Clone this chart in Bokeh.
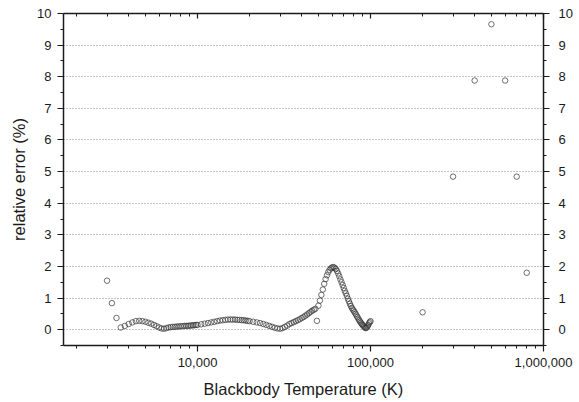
from bokeh.plotting import figure
from bokeh.models import (Range1d, FixedTicker, LinearAxis, LogAxis,
                          NumeralTickFormatter, ColumnDataSource)
from bokeh.embed import file_html
from bokeh.resources import INLINE

# ---------------- data ----------------
temperature_k = [
    3000, 3200, 3400, 3600, 3800, 4000, 4200, 4400, 4600, 4800,
    5000, 5200, 5400, 5600, 5800, 6000, 6200, 6400, 6600, 6800,
    7000, 7200, 7400, 7600, 7800, 8000, 8200, 8400, 8600, 8800,
    9000, 9200, 9400, 9600, 9800, 10000,
    10500, 11000, 11500, 12000, 12500, 13000, 13500, 14000, 14500, 15000,
    15500, 16000, 16500, 17000, 17500, 18000, 18500, 19000, 19500, 20000,
    21000, 22000, 23000, 24000, 25000, 26000, 27000, 28000, 29000, 30000,
    31000, 32000, 33000, 34000, 35000, 36000, 37000, 38000, 39000, 40000,
    41000, 42000, 43000, 44000, 45000, 46000, 47000, 48000, 49000, 50000,
    51000, 52000, 53000, 54000, 55000, 56000, 57000, 58000, 59000, 60000,
    61000, 62000, 63000, 64000, 65000, 66000, 67000, 68000, 69000, 70000,
    71000, 72000, 73000, 74000, 75000, 76000, 77000, 78000, 79000, 80000,
    81000, 82000, 83000, 84000, 85000, 86000, 87000, 88000, 89000, 90000,
    91000, 92000, 93000, 94000, 95000, 96000, 97000, 98000, 99000, 100000,
    200000, 300000, 400000, 500000, 600000, 700000, 800000,
]
relative_error = [
    1.55, 0.84, 0.37, 0.07, 0.12, 0.18, 0.23, 0.27, 0.28, 0.27,
    0.25, 0.22, 0.19, 0.15, 0.11, 0.07, 0.04, 0.03, 0.05, 0.07,
    0.08, 0.09, 0.09, 0.10, 0.10, 0.11, 0.11, 0.12, 0.12, 0.12,
    0.13, 0.13, 0.14, 0.14, 0.15, 0.15,
    0.17, 0.19, 0.21, 0.23, 0.25, 0.27, 0.29, 0.30, 0.31, 0.32,
    0.32, 0.32, 0.32, 0.31, 0.31, 0.30, 0.30, 0.29, 0.28, 0.27,
    0.25, 0.23, 0.21, 0.18, 0.15, 0.12, 0.09, 0.06, 0.04, 0.03,
    0.05, 0.09, 0.13, 0.18, 0.21, 0.24, 0.27, 0.30, 0.33, 0.37,
    0.40, 0.44, 0.48, 0.52, 0.56, 0.60, 0.63, 0.66, 0.28, 0.76,
    0.92, 1.10, 1.27, 1.45, 1.60, 1.72, 1.82, 1.89, 1.94, 1.97,
    1.98, 1.96, 1.92, 1.86, 1.78, 1.69, 1.59, 1.50, 1.41, 1.32,
    1.23, 1.15, 1.07, 0.98, 0.90, 0.82, 0.75, 0.69, 0.64, 0.60,
    0.55, 0.50, 0.45, 0.40, 0.35, 0.30, 0.26, 0.22, 0.18, 0.15,
    0.12, 0.09, 0.06, 0.05, 0.07, 0.10, 0.15, 0.20, 0.24, 0.27,
    0.55, 4.84, 7.88, 9.66, 7.88, 4.84, 1.80,
]

x_major_ticks = [10000, 100000, 1000000]
y_major_ticks = [0, 1, 2, 3, 4, 5, 6, 7, 8, 9, 10]
x_label = "Blackbody Temperature (K)"
y_label = "relative error (%)"

# ---------------- figure ----------------
FONT = "Liberation Sans"
INK = "#1a1a1a"

p = figure(width=575, height=400, x_axis_type="log",
           x_range=Range1d(1680, 1000000), y_range=Range1d(-0.5, 10),
           output_backend="svg", toolbar_location=None,
           min_border_left=63, min_border_right=32,
           min_border_top=13, min_border_bottom=55)
p.outline_line_color = None
p.background_fill_color = "white"
p.border_fill_color = "white"

x_minor = [m * 10 ** k for k in (3, 4, 5) for m in range(2, 10)]
y_minor = [v + 0.5 for v in [-1] + y_major_ticks[:-1]]
xt = FixedTicker(ticks=x_major_ticks, minor_ticks=x_minor)
yt = FixedTicker(ticks=y_major_ticks, minor_ticks=y_minor)

p.xgrid.visible = False
p.ygrid.ticker = FixedTicker(ticks=y_major_ticks[:-1])
p.ygrid.grid_line_color = "#8a8a8a"
p.ygrid.grid_line_dash = "1 2"
p.ygrid.grid_line_width = 1

src = ColumnDataSource(dict(t=temperature_k, e=relative_error))
p.scatter("t", "e", source=src, marker="circle", size=5.5,
          fill_color=None, line_color="#333333", line_width=0.7)


def style(ax):
    ax.axis_line_color = INK
    ax.axis_line_width = 1.5
    ax.major_tick_line_color = INK
    ax.minor_tick_line_color = INK
    ax.major_tick_line_width = 1.2
    ax.minor_tick_line_width = 1
    ax.major_label_text_font = FONT
    ax.major_label_text_font_size = "13px"
    ax.major_label_text_color = INK
    ax.axis_label_text_font = FONT
    ax.axis_label_text_font_style = "normal"
    ax.axis_label_text_font_size = "16.5px"
    ax.axis_label_text_color = INK


# bottom axis
bx = p.xaxis[0]
bx.ticker = xt
bx.formatter = NumeralTickFormatter(format="0,0")
bx.axis_label = x_label
style(bx)
bx.major_tick_out, bx.major_tick_in = 6, 0
bx.minor_tick_out, bx.minor_tick_in = 3, 0
bx.major_label_standoff = 6
bx.axis_label_standoff = 10

# left axis
ly = p.yaxis[0]
ly.ticker = yt
ly.axis_label = y_label
style(ly)
ly.major_tick_out, ly.major_tick_in = 6, 0
ly.minor_tick_out, ly.minor_tick_in = 3, 0
ly.major_label_standoff = 6
ly.axis_label_standoff = 6

# right axis
ry = LinearAxis(ticker=yt)
style(ry)
ry.major_tick_out, ry.major_tick_in = 6, 0
ry.minor_tick_out, ry.minor_tick_in = 3, 0
ry.major_label_standoff = 9
p.add_layout(ry, "right")

# top axis (ticks only, pointing inward, labels hidden)
tx = LogAxis(ticker=xt)
style(tx)
tx.major_label_text_font_size = "1px"
tx.major_label_text_alpha = 0
tx.major_tick_out, tx.major_tick_in = 0, 5
tx.minor_tick_out, tx.minor_tick_in = 0, 3
tx.major_label_standoff = 0
p.add_layout(tx, "above")

open("out.html", "w").write(file_html(p, INLINE))
